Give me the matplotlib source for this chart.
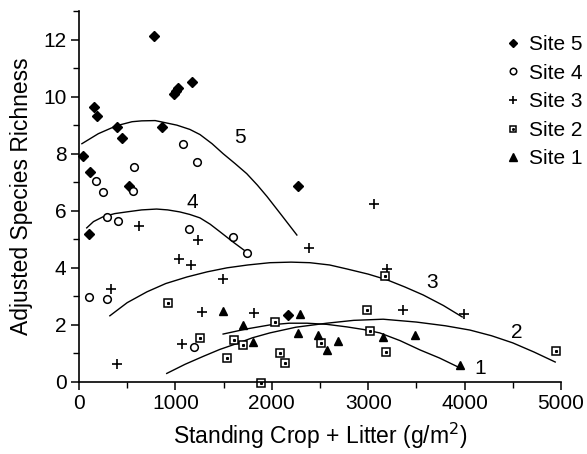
import matplotlib
matplotlib.use("Agg")
from matplotlib import pyplot as plt
from matplotlib.legend_handler import HandlerTuple

plt.rcParams["font.family"] = ["Liberation Sans", "DejaVu Sans"]

# site 5 (filled diamonds)
site5_x = [40, 115, 155, 185, 390, 445, 780, 985, 1005, 1030, 1170, 860, 520, 105, 2270, 2170]
site5_y = [7.93, 7.37, 9.65, 9.33, 8.95, 8.56, 12.14, 10.1, 10.2, 10.3, 10.5, 8.95, 6.87, 5.2, 6.87, 2.35]

# site 4 (open circles)
site4_x = [1080, 1225, 570, 175, 250, 560, 290, 405, 1140, 1600, 1740, 105, 290, 1195]
site4_y = [8.35, 7.7, 7.55, 7.05, 6.67, 6.7, 5.79, 5.65, 5.37, 5.09, 4.53, 2.98, 2.91, 1.24]

# site 3 (plus)
site3_x = [625, 1235, 1040, 1160, 330, 1495, 1280, 1815, 1070, 395, 3060, 2385, 3195, 3360, 3995]
site3_y = [5.45, 4.98, 4.3, 4.1, 3.26, 3.6, 2.45, 2.43, 1.33, 0.63, 6.25, 4.7, 3.96, 2.53, 2.39]

# site 2 (dotted squares)
site2_x = [925, 1255, 1610, 1700, 1535, 1890, 2035, 3175, 2985, 3020, 3185, 2085, 2135, 2510, 4950]
site2_y = [2.77, 1.54, 1.47, 1.3, 0.85, -0.03, 2.1, 3.72, 2.53, 1.77, 1.06, 1.02, 0.66, 1.38, 1.09]

# site 1 (filled triangles)
site1_x = [1495, 1700, 1805, 2290, 2270, 2480, 2570, 2685, 3150, 3485, 3950]
site1_y = [2.49, 2.0, 1.4, 2.39, 1.72, 1.65, 1.12, 1.44, 1.58, 1.65, 0.6]

# fitted curves
curve5_x = [30, 200, 390, 550, 650, 790, 1015, 1150, 1255, 1380, 1495, 1620, 1740, 1850, 1950, 2100, 2260]
curve5_y = [8.35, 8.7, 8.98, 9.12, 9.15, 9.16, 9.0, 8.85, 8.67, 8.35, 8.0, 7.65, 7.3, 6.9, 6.5, 5.85, 5.15]
curve4_x = [80, 150, 250, 370, 495, 650, 805, 920, 1045, 1150, 1255, 1360, 1460, 1600, 1720]
curve4_y = [5.4, 5.62, 5.79, 5.9, 5.96, 6.03, 6.06, 6.03, 5.96, 5.87, 5.75, 5.53, 5.27, 4.9, 4.6]
curve3_x = [320, 500, 705, 900, 1120, 1330, 1535, 1750, 1980, 2200, 2395, 2600, 2780, 3000, 3195,
            3380, 3570, 3780, 3975]
curve3_y = [2.32, 2.78, 3.16, 3.45, 3.68, 3.86, 4.0, 4.1, 4.18, 4.2, 4.18, 4.1, 3.96, 3.78, 3.58,
            3.33, 3.05, 2.68, 2.28]
curve2_x = [910, 1100, 1290, 1460, 1640, 1800, 1980, 2250, 2570, 2850, 3155, 3500, 3800, 4055,
            4280, 4500, 4720, 4940]
curve2_y = [0.3, 0.62, 0.9, 1.14, 1.35, 1.55, 1.72, 1.92, 2.06, 2.16, 2.2, 2.1, 1.97, 1.82,
            1.62, 1.37, 1.05, 0.7]
curve1_x = [1495, 1740, 1980, 2180, 2365, 2570, 2780, 2950, 3120, 3330, 3540, 3740, 3930]
curve1_y = [1.68, 1.86, 2.0, 2.06, 2.06, 2.02, 1.93, 1.84, 1.72, 1.45, 1.12, 0.84, 0.53]

curve_labels = ["5", "4", "3", "2", "1"]
label_x = [1670, 1180, 3660, 4545, 4160]
label_y = [8.55, 6.3, 3.5, 1.75, 0.49]

fig = plt.figure(figsize=(5.87, 4.54), dpi=100)
ax = fig.add_axes([0.1346, 0.1586, 0.8211, 0.8172])

for cx, cy in [(curve5_x, curve5_y), (curve4_x, curve4_y), (curve3_x, curve3_y),
               (curve2_x, curve2_y), (curve1_x, curve1_y)]:
    ax.plot(cx, cy, color="black", lw=1.0)

h5, = ax.plot(site5_x, site5_y, "D", color="black", ms=5, ls="none", clip_on=False)
h4, = ax.plot(site4_x, site4_y, "o", mfc="white", mec="black", mew=1.1, ms=5.5,
              ls="none", clip_on=False)
h3, = ax.plot(site3_x, site3_y, "+", color="black", mew=1.2, ms=7, ls="none", clip_on=False)
h2, = ax.plot(site2_x, site2_y, "s", mfc="white", mec="black", mew=1.1, ms=5.5,
              ls="none", clip_on=False)
h2d, = ax.plot(site2_x, site2_y, "s", color="black", ms=1.2, ls="none", clip_on=False)
h1, = ax.plot(site1_x, site1_y, "^", color="black", ms=6, ls="none", clip_on=False)

for t, x, y in zip(curve_labels, label_x, label_y):
    ax.text(x, y, t, fontsize=15, ha="center", va="center")

ax.legend([h5, h4, h3, (h2, h2d), h1], ["Site 5", "Site 4", "Site 3", "Site 2", "Site 1"],
          handler_map={tuple: HandlerTuple(ndivide=1, pad=0)},
          loc="upper left", bbox_to_anchor=(0.884, 0.935), frameon=False,
          fontsize=15, handlelength=0.8, handletextpad=0.35, labelspacing=0.46,
          borderpad=0, borderaxespad=0, markerscale=0.85)

ax.set_xlim(0, 5000)
ax.set_ylim(0, 13)
ax.set_xticks(range(0, 5001, 1000))
ax.set_xticks(range(500, 5000, 1000), minor=True)
ax.set_yticks(range(0, 13, 2))
ax.set_yticks(range(1, 14, 2), minor=True)
ax.spines["top"].set_visible(False)
ax.spines["right"].set_visible(False)
ax.spines["left"].set_linewidth(1.2)
ax.spines["bottom"].set_linewidth(1.2)
ax.tick_params(which="major", length=6, width=1.1, labelsize=15, pad=3)
ax.tick_params(which="minor", length=4, width=1.0)

ax.set_xlabel("Standing Crop + Litter (g/m$^2$)", fontsize=16.5, labelpad=5)
ax.set_ylabel("Adjusted Species Richness", fontsize=16.5, labelpad=7)

plt.savefig("out.png", dpi=100)
